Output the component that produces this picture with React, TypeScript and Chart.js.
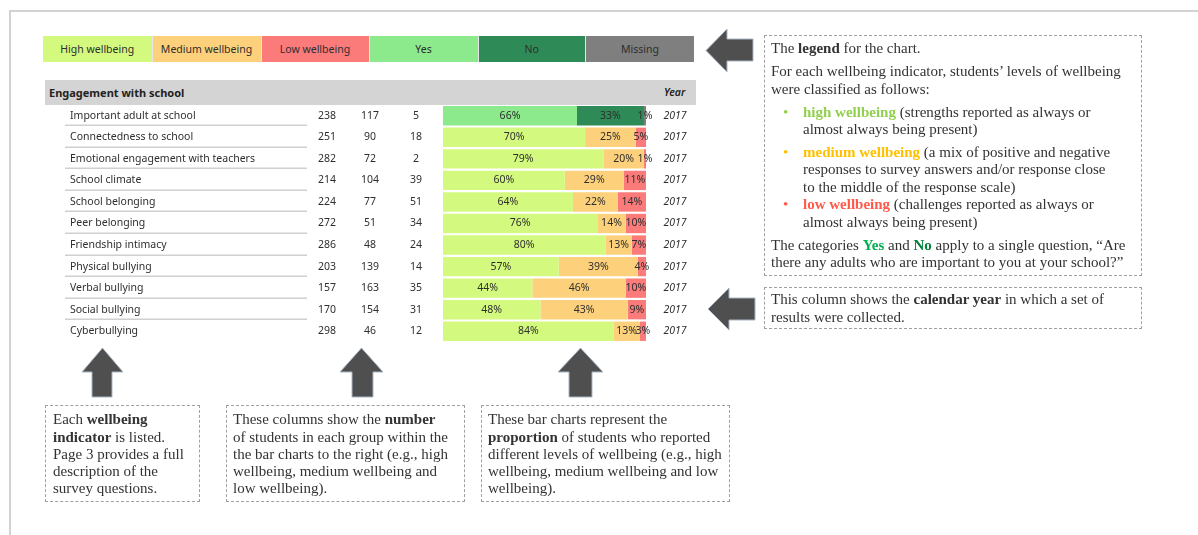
import React, { useEffect, useRef } from 'react';
import { Chart, registerables } from 'chart.js';
Chart.register(...registerables);

// ---------- data ----------
const indicators = [
  'Important adult at school',
  'Connectedness to school',
  'Emotional engagement with teachers',
  'School climate',
  'School belonging',
  'Peer belonging',
  'Friendship intimacy',
  'Physical bullying',
  'Verbal bullying',
  'Social bullying',
  'Cyberbullying',
];
const highCounts = [238, 251, 282, 214, 224, 272, 286, 203, 157, 170, 298];
const mediumCounts = [117, 90, 72, 104, 77, 51, 48, 139, 163, 154, 46];
const lowCounts = [5, 18, 2, 39, 51, 34, 24, 14, 35, 31, 12];
const highPct = [66, 70, 79, 60, 64, 76, 80, 57, 44, 48, 84];
const mediumPct = [33, 25, 20, 29, 22, 14, 13, 39, 46, 43, 13];
const lowPct = [1, 5, 1, 11, 14, 10, 7, 4, 10, 9, 3];
const years = ['2017', '2017', '2017', '2017', '2017', '2017', '2017', '2017', '2017', '2017', '2017'];
const legendLabels = ['High wellbeing', 'Medium wellbeing', 'Low wellbeing', 'Yes', 'No', 'Missing'];
const sectionTitle = 'Engagement with school';
const yearHeader = 'Year';

// ---------- styles ----------
const HIGH = '#d3fa7f';
const MED = '#fdd17b';
const LOW = '#fb7b7b';
const YES = '#8ce98c';
const NO = '#2e8b57';
const MISSING = '#7f7f7f';
const legendColors = [HIGH, MED, LOW, YES, NO, MISSING];
const TABLE_FONT = '"Noto Sans", "Open Sans", sans-serif';
const SERIF = '"Liberation Serif", "DejaVu Serif", serif';
const TEXT = '#333333';

const tablePlugin = {
  id: 'tableText',
  beforeDatasetsDraw(chart: any) {
    const ctx = chart.ctx;
    const y = chart.scales.y;
    ctx.save();
    ctx.strokeStyle = '#d0d0d0';
    ctx.lineWidth = 1.5;
    for (let i = 0; i < indicators.length - 1; i++) {
      const py = Math.round(y.getPixelForValue(i) + 9.5) + 0.25;
      ctx.beginPath();
      ctx.moveTo(20, py);
      ctx.lineTo(262, py);
      ctx.stroke();
    }
    ctx.restore();
  },
  afterDatasetsDraw(chart: any) {
    const ctx = chart.ctx;
    const y = chart.scales.y;
    ctx.save();
    ctx.fillStyle = '#2e2e2e';
    ctx.textBaseline = 'middle';
    ctx.font = `10.5px ${TABLE_FONT}`;
    indicators.forEach((name, i) => {
      const py = y.getPixelForValue(i);
      ctx.textAlign = 'left';
      ctx.fillText(name, 25, py);
      ctx.textAlign = 'center';
      ctx.fillText(String(highCounts[i]), 282, py);
      ctx.fillText(String(mediumCounts[i]), 325, py);
      ctx.fillText(String(lowCounts[i]), 371, py);
    });
    ctx.font = `italic 10.5px ${TABLE_FONT}`;
    years.forEach((yr, i) => {
      ctx.textAlign = 'center';
      ctx.fillText(yr, 630, y.getPixelForValue(i));
    });
    // segment labels
    ctx.font = `10.5px ${TABLE_FONT}`;
    ctx.textAlign = 'center';
    chart.data.datasets.forEach((ds: any, d: number) => {
      const meta = chart.getDatasetMeta(d);
      meta.data.forEach((bar: any, i: number) => {
        const cx = (bar.x + bar.base) / 2;
        ctx.fillText(`${ds.data[i]}%`, cx, bar.y);
      });
    });
    ctx.restore();
  },
};

function Arrow({ points }: { points: string }) {
  return <polygon points={points} fill="#4f4f4f" stroke="#a9b6c4" strokeWidth={1} />;
}

const lineStyle = (x: number, cy: number): React.CSSProperties => ({
  position: 'absolute',
  left: x,
  top: cy - 9,
  height: 18,
  lineHeight: '18px',
  whiteSpace: 'nowrap',
  fontFamily: SERIF,
  fontSize: 15,
  color: TEXT,
});

const boxStyle = (l: number, t: number, r: number, b: number): React.CSSProperties => ({
  position: 'absolute',
  left: l,
  top: t,
  width: r - l,
  height: b - t,
  border: '1px dashed #a0a0a0',
  boxSizing: 'border-box',
});

export default function App() {
  const ref = useRef<HTMLCanvasElement>(null);
  useEffect(() => {
    if (!ref.current) return;
    const chart = new Chart(ref.current, {
      type: 'bar',
      data: {
        labels: indicators,
        datasets: [
          {
            label: 'High wellbeing / Yes',
            data: highPct,
            backgroundColor: (c: any) => (c.dataIndex === 0 ? YES : HIGH),
          },
          {
            label: 'Medium wellbeing / No',
            data: mediumPct,
            backgroundColor: (c: any) => (c.dataIndex === 0 ? NO : MED),
          },
          {
            label: 'Low wellbeing / Missing',
            data: lowPct,
            backgroundColor: (c: any) => (c.dataIndex === 0 ? MISSING : LOW),
          },
        ],
      },
      options: {
        indexAxis: 'y',
        responsive: false,
        maintainAspectRatio: false,
        animation: false,
        layout: { padding: { left: 398, right: 50, top: 0, bottom: 0 } },
        datasets: { bar: { barPercentage: 0.9, categoryPercentage: 1, borderWidth: 0 } },
        scales: {
          x: { stacked: true, min: 0, max: 100, display: false },
          y: { stacked: true, display: false },
        },
        plugins: { legend: { display: false }, tooltip: { enabled: false } },
      } as any,
      plugins: [tablePlugin],
    });
    return () => chart.destroy();
  }, []);

  const legendEdges = [43, 151.5, 260.5, 368.5, 477.5, 585, 694];

  return (
    <div style={{ position: 'absolute', left: 0, top: 0, width: 1198, height: 535, background: '#fff', overflow: 'hidden' }}>
      {/* page frame */}
      <div style={{ position: 'absolute', left: 9, top: 10, width: 1200, height: 540, borderTop: '2px solid #d2d2d2', borderLeft: '2px solid #d2d2d2' }} />

      {/* legend strip */}
      {legendLabels.map((lab, i) => (
        <div
          key={lab}
          style={{
            position: 'absolute',
            left: legendEdges[i],
            top: 36,
            width: legendEdges[i + 1] - legendEdges[i],
            height: 26,
            background: legendColors[i],
            borderLeft: i > 0 ? '1px solid #e6e6e6' : 'none',
            boxSizing: 'border-box',
            display: 'flex',
            alignItems: 'center',
            justifyContent: 'center',
            fontFamily: TABLE_FONT,
            fontSize: 10.5,
            color: '#2e2e2e',
          }}
        >
          {lab}
        </div>
      ))}

      {/* section header */}
      <div style={{ position: 'absolute', left: 45, top: 80, width: 651, height: 25, background: '#d4d4d4' }} />
      <div style={{ position: 'absolute', left: 49, top: 80, height: 25, lineHeight: '25px', fontFamily: TABLE_FONT, fontSize: 11, fontWeight: 700, color: '#222' }}>
        {sectionTitle}
      </div>
      <div style={{ position: 'absolute', left: 664, top: 80, height: 25, lineHeight: '25px', fontFamily: TABLE_FONT, fontSize: 10.5, fontStyle: 'italic', fontWeight: 600, color: '#222' }}>
        {yearHeader}
      </div>

      {/* chart */}
      <canvas ref={ref} width={651} height={237} style={{ position: 'absolute', left: 45, top: 105, width: 651, height: 237 }} />

      {/* arrows */}
      <svg width={1198} height={535} style={{ position: 'absolute', left: 0, top: 0, pointerEvents: 'none' }}>
        <Arrow points="706,50.5 727,29 727,39 753,39 753,61 727,61 727,72" />
        <Arrow points="708,309 729,288 729,298 755,298 755,320 729,320 729,330" />
        <Arrow points="102.5,348 123,372 112,372 112,397 92,397 92,372 82,372" />
        <Arrow points="361.5,348 383,372 373,372 373,397 352,397 352,372 340,372" />
        <Arrow points="580.5,348 603,372 592,372 592,397 569,397 569,372 558,372" />
      </svg>

      {/* right legend box */}
      <div style={boxStyle(764, 35, 1142, 276)} />
      <div style={lineStyle(771, 48)}>The <b>legend</b> for the chart.</div>
      <div style={lineStyle(771, 70.7)}>For each wellbeing indicator, students’ levels of wellbeing</div>
      <div style={lineStyle(771, 89.3)}>were classified as follows:</div>
      <div style={{ ...lineStyle(783, 111.7), color: '#92d050' }}>•</div>
      <div style={lineStyle(803, 111.7)}><b style={{ color: '#92d050' }}>high wellbeing</b> (strengths reported as always or</div>
      <div style={lineStyle(803, 129)}>almost always being present)</div>
      <div style={{ ...lineStyle(783, 152), color: '#ffc000' }}>•</div>
      <div style={lineStyle(803, 152)}><b style={{ color: '#ffc000' }}>medium wellbeing</b> (a mix of positive and negative</div>
      <div style={lineStyle(803, 168.5)}>responses to survey answers and/or response close</div>
      <div style={lineStyle(803, 186.7)}>to the middle of the response scale)</div>
      <div style={{ ...lineStyle(783, 204.3), color: '#ff5a4a' }}>•</div>
      <div style={lineStyle(803, 204.3)}><b style={{ color: '#ff5a4a' }}>low wellbeing</b> (challenges reported as always or</div>
      <div style={lineStyle(803, 221.7)}>almost always being present)</div>
      <div style={lineStyle(771, 245)}>The categories <b style={{ color: '#00b050' }}>Yes</b> and <b style={{ color: '#00803a' }}>No</b> apply to a single question, “Are</div>
      <div style={lineStyle(771, 261.7)}>there any adults who are important to you at your school?”</div>

      {/* year box */}
      <div style={boxStyle(764, 287, 1142, 329)} />
      <div style={lineStyle(771, 299.3)}>This column shows the <b>calendar year</b> in which a set of</div>
      <div style={lineStyle(771, 316.7)}>results were collected.</div>

      {/* bottom boxes */}
      <div style={boxStyle(45, 405, 200, 502)} />
      <div style={lineStyle(53, 419)}>Each <b>wellbeing</b></div>
      <div style={lineStyle(53, 436.7)}><b>indicator</b> is listed.</div>
      <div style={lineStyle(53, 453.5)}>Page 3 provides a full</div>
      <div style={lineStyle(53, 471)}>description of the</div>
      <div style={lineStyle(53, 488)}>survey questions.</div>

      <div style={boxStyle(226, 405, 465, 502)} />
      <div style={lineStyle(233, 419)}>These columns show the <b>number</b></div>
      <div style={lineStyle(233, 436.7)}>of students in each group within the</div>
      <div style={lineStyle(233, 453.5)}>the bar charts to the right (e.g., high</div>
      <div style={lineStyle(233, 471)}>wellbeing, medium wellbeing and</div>
      <div style={lineStyle(233, 488)}>low wellbeing).</div>

      <div style={boxStyle(481, 405, 730, 502)} />
      <div style={lineStyle(488, 419)}>These bar charts represent the</div>
      <div style={lineStyle(488, 436.7)}><b>proportion</b> of students who reported</div>
      <div style={lineStyle(488, 453.5)}>different levels of wellbeing (e.g., high</div>
      <div style={lineStyle(488, 471)}>wellbeing, medium wellbeing and low</div>
      <div style={lineStyle(488, 488)}>wellbeing).</div>
    </div>
  );
}
